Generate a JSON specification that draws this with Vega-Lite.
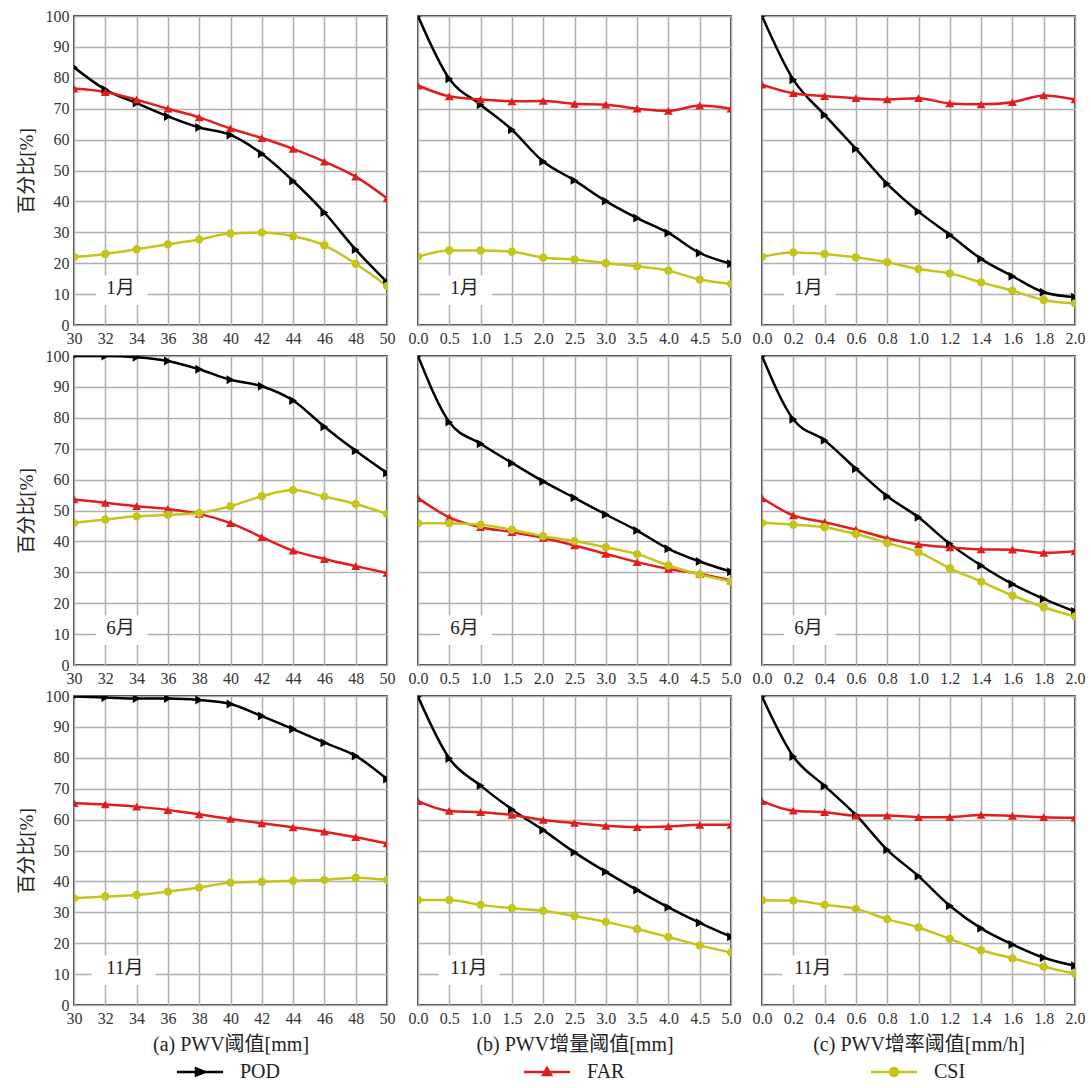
{
  "$schema": "https://vega.github.io/schema/vega-lite/v6.json",
  "background": "white",
  "padding": {"left": 16, "top": 7, "right": 5, "bottom": 5},
  "bounds": "flush",
  "spacing": 31,
  "columns": 3,
  "datasets": {
    "d": [
      {"m":"1月","t":"a","x":30,"POD":83.4,"FAR":76.5,"CSI":22.0},
      {"m":"1月","t":"a","x":32,"POD":76.2,"FAR":75.4,"CSI":23.0},
      {"m":"1月","t":"a","x":34,"POD":71.8,"FAR":72.9,"CSI":24.5},
      {"m":"1月","t":"a","x":36,"POD":67.5,"FAR":70.0,"CSI":26.1},
      {"m":"1月","t":"a","x":38,"POD":63.9,"FAR":67.2,"CSI":27.7},
      {"m":"1月","t":"a","x":40,"POD":61.5,"FAR":63.6,"CSI":29.6},
      {"m":"1月","t":"a","x":42,"POD":55.4,"FAR":60.5,"CSI":29.9},
      {"m":"1月","t":"a","x":44,"POD":46.6,"FAR":57.0,"CSI":28.7},
      {"m":"1月","t":"a","x":46,"POD":36.4,"FAR":52.9,"CSI":25.8},
      {"m":"1月","t":"a","x":48,"POD":24.4,"FAR":48.0,"CSI":19.8},
      {"m":"1月","t":"a","x":50,"POD":13.9,"FAR":41.0,"CSI":12.6},
      {"m":"1月","t":"b","x":0.0,"POD":100,"FAR":77.5,"CSI":22.1},
      {"m":"1月","t":"b","x":0.5,"POD":79.7,"FAR":74.0,"CSI":24.1},
      {"m":"1月","t":"b","x":1.0,"POD":71.3,"FAR":73.0,"CSI":24.1},
      {"m":"1月","t":"b","x":1.5,"POD":63.2,"FAR":72.4,"CSI":23.7},
      {"m":"1月","t":"b","x":2.0,"POD":52.9,"FAR":72.5,"CSI":21.8},
      {"m":"1月","t":"b","x":2.5,"POD":46.8,"FAR":71.6,"CSI":21.2},
      {"m":"1月","t":"b","x":3.0,"POD":40.1,"FAR":71.3,"CSI":20.0},
      {"m":"1月","t":"b","x":3.5,"POD":34.6,"FAR":70.0,"CSI":19.0},
      {"m":"1月","t":"b","x":4.0,"POD":29.8,"FAR":69.3,"CSI":17.6},
      {"m":"1月","t":"b","x":4.5,"POD":23.3,"FAR":71.0,"CSI":14.7},
      {"m":"1月","t":"b","x":5.0,"POD":19.8,"FAR":70.0,"CSI":13.3},
      {"m":"1月","t":"c","x":0.0,"POD":100,"FAR":77.8,"CSI":22.1},
      {"m":"1月","t":"c","x":0.2,"POD":79.4,"FAR":75.0,"CSI":23.5},
      {"m":"1月","t":"c","x":0.4,"POD":68.0,"FAR":74.1,"CSI":23.0},
      {"m":"1月","t":"c","x":0.6,"POD":57.0,"FAR":73.4,"CSI":21.9},
      {"m":"1月","t":"c","x":0.8,"POD":45.7,"FAR":73.0,"CSI":20.3},
      {"m":"1月","t":"c","x":1.0,"POD":36.7,"FAR":73.4,"CSI":18.1},
      {"m":"1月","t":"c","x":1.2,"POD":29.2,"FAR":71.7,"CSI":16.7},
      {"m":"1月","t":"c","x":1.4,"POD":21.4,"FAR":71.4,"CSI":13.8},
      {"m":"1月","t":"c","x":1.6,"POD":15.8,"FAR":72.1,"CSI":11.1},
      {"m":"1月","t":"c","x":1.8,"POD":10.6,"FAR":74.3,"CSI":8.1},
      {"m":"1月","t":"c","x":2.0,"POD":9.0,"FAR":73.0,"CSI":7.0},
      {"m":"6月","t":"a","x":30,"POD":100,"FAR":53.6,"CSI":46.0},
      {"m":"6月","t":"a","x":32,"POD":100,"FAR":52.5,"CSI":47.1},
      {"m":"6月","t":"a","x":34,"POD":99.6,"FAR":51.4,"CSI":48.1},
      {"m":"6月","t":"a","x":36,"POD":98.4,"FAR":50.5,"CSI":48.6},
      {"m":"6月","t":"a","x":38,"POD":95.7,"FAR":48.9,"CSI":49.2},
      {"m":"6月","t":"a","x":40,"POD":92.3,"FAR":45.9,"CSI":51.4},
      {"m":"6月","t":"a","x":42,"POD":90.2,"FAR":41.4,"CSI":54.6},
      {"m":"6月","t":"a","x":44,"POD":85.6,"FAR":37.0,"CSI":56.6},
      {"m":"6月","t":"a","x":46,"POD":77.1,"FAR":34.3,"CSI":54.5},
      {"m":"6月","t":"a","x":48,"POD":69.3,"FAR":32.0,"CSI":52.1},
      {"m":"6月","t":"a","x":50,"POD":62.1,"FAR":29.8,"CSI":48.9},
      {"m":"6月","t":"b","x":0.0,"POD":100,"FAR":54.0,"CSI":45.9},
      {"m":"6月","t":"b","x":0.5,"POD":78.6,"FAR":47.8,"CSI":45.9},
      {"m":"6月","t":"b","x":1.0,"POD":71.6,"FAR":44.6,"CSI":45.4},
      {"m":"6月","t":"b","x":1.5,"POD":65.4,"FAR":43.0,"CSI":43.8},
      {"m":"6月","t":"b","x":2.0,"POD":59.4,"FAR":41.1,"CSI":41.7},
      {"m":"6月","t":"b","x":2.5,"POD":54.1,"FAR":38.7,"CSI":40.1},
      {"m":"6月","t":"b","x":3.0,"POD":48.7,"FAR":36.0,"CSI":38.1},
      {"m":"6月","t":"b","x":3.5,"POD":43.5,"FAR":33.3,"CSI":35.9},
      {"m":"6月","t":"b","x":4.0,"POD":37.6,"FAR":31.1,"CSI":32.2},
      {"m":"6月","t":"b","x":4.5,"POD":33.5,"FAR":29.5,"CSI":29.3},
      {"m":"6月","t":"b","x":5.0,"POD":30.2,"FAR":27.3,"CSI":27.0},
      {"m":"6月","t":"c","x":0.0,"POD":100,"FAR":54.0,"CSI":46.0},
      {"m":"6月","t":"c","x":0.2,"POD":79.5,"FAR":48.4,"CSI":45.4},
      {"m":"6月","t":"c","x":0.4,"POD":72.7,"FAR":46.2,"CSI":44.6},
      {"m":"6月","t":"c","x":0.6,"POD":63.5,"FAR":43.8,"CSI":42.4},
      {"m":"6月","t":"c","x":0.8,"POD":54.6,"FAR":41.0,"CSI":39.5},
      {"m":"6月","t":"c","x":1.0,"POD":47.8,"FAR":39.0,"CSI":36.5},
      {"m":"6月","t":"c","x":1.2,"POD":39.2,"FAR":38.1,"CSI":31.3},
      {"m":"6月","t":"c","x":1.4,"POD":32.2,"FAR":37.4,"CSI":27.0},
      {"m":"6月","t":"c","x":1.6,"POD":26.2,"FAR":37.3,"CSI":22.5},
      {"m":"6月","t":"c","x":1.8,"POD":21.4,"FAR":36.3,"CSI":18.7},
      {"m":"6月","t":"c","x":2.0,"POD":17.3,"FAR":36.8,"CSI":15.7},
      {"m":"11月","t":"a","x":30,"POD":99.8,"FAR":65.3,"CSI":34.5},
      {"m":"11月","t":"a","x":32,"POD":99.5,"FAR":64.9,"CSI":35.1},
      {"m":"11月","t":"a","x":34,"POD":99.2,"FAR":64.2,"CSI":35.6},
      {"m":"11月","t":"a","x":36,"POD":99.2,"FAR":63.1,"CSI":36.7},
      {"m":"11月","t":"a","x":38,"POD":98.7,"FAR":61.7,"CSI":38.0},
      {"m":"11月","t":"a","x":40,"POD":97.4,"FAR":60.2,"CSI":39.6},
      {"m":"11月","t":"a","x":42,"POD":93.5,"FAR":58.8,"CSI":39.9},
      {"m":"11月","t":"a","x":44,"POD":89.3,"FAR":57.5,"CSI":40.2},
      {"m":"11月","t":"a","x":46,"POD":84.9,"FAR":56.1,"CSI":40.5},
      {"m":"11月","t":"a","x":48,"POD":80.6,"FAR":54.3,"CSI":41.2},
      {"m":"11月","t":"a","x":50,"POD":73.1,"FAR":52.3,"CSI":40.5},
      {"m":"11月","t":"b","x":0.0,"POD":99.8,"FAR":66.0,"CSI":34.0},
      {"m":"11月","t":"b","x":0.5,"POD":79.8,"FAR":62.8,"CSI":34.0},
      {"m":"11月","t":"b","x":1.0,"POD":71.0,"FAR":62.4,"CSI":32.4},
      {"m":"11月","t":"b","x":1.5,"POD":63.3,"FAR":61.5,"CSI":31.3},
      {"m":"11月","t":"b","x":2.0,"POD":56.6,"FAR":59.9,"CSI":30.5},
      {"m":"11月","t":"b","x":2.5,"POD":49.4,"FAR":58.9,"CSI":28.8},
      {"m":"11月","t":"b","x":3.0,"POD":43.1,"FAR":58.0,"CSI":26.9},
      {"m":"11月","t":"b","x":3.5,"POD":37.2,"FAR":57.6,"CSI":24.6},
      {"m":"11月","t":"b","x":4.0,"POD":31.6,"FAR":57.8,"CSI":22.0},
      {"m":"11月","t":"b","x":4.5,"POD":26.6,"FAR":58.3,"CSI":19.3},
      {"m":"11月","t":"b","x":5.0,"POD":22.1,"FAR":58.3,"CSI":17.0},
      {"m":"11月","t":"c","x":0.0,"POD":99.8,"FAR":66.0,"CSI":33.9},
      {"m":"11月","t":"c","x":0.2,"POD":80.4,"FAR":62.9,"CSI":33.8},
      {"m":"11月","t":"c","x":0.4,"POD":70.9,"FAR":62.4,"CSI":32.4},
      {"m":"11月","t":"c","x":0.6,"POD":61.5,"FAR":61.3,"CSI":31.1},
      {"m":"11月","t":"c","x":0.8,"POD":50.2,"FAR":61.3,"CSI":27.8},
      {"m":"11月","t":"c","x":1.0,"POD":41.7,"FAR":60.8,"CSI":25.1},
      {"m":"11月","t":"c","x":1.2,"POD":32.1,"FAR":60.8,"CSI":21.4},
      {"m":"11月","t":"c","x":1.4,"POD":24.8,"FAR":61.5,"CSI":17.7},
      {"m":"11月","t":"c","x":1.6,"POD":19.6,"FAR":61.2,"CSI":15.1},
      {"m":"11月","t":"c","x":1.8,"POD":15.3,"FAR":60.8,"CSI":12.4},
      {"m":"11月","t":"c","x":2.0,"POD":12.7,"FAR":60.6,"CSI":10.2}
    ]
  },
  "data": {"name": "d"},
  "concat": [
    {"width": 313, "height": 309, "layer": [
      {"data": {"values": [{}]}, "mark": {"type": "rect", "fill": "white"}, "encoding": {"x": {"datum": 31.4, "type": "quantitative"}, "x2": {"datum": 34.7}, "y": {"datum": 6.5, "type": "quantitative"}, "y2": {"datum": 16}}},
      {"data": {"values": [{}]}, "mark": {"type": "text", "align": "left", "baseline": "middle", "dx": 1, "fontSize": 19, "font": "Liberation Serif, Noto Sans CJK SC", "text": "1月", "color": "#222"}, "encoding": {"x": {"datum": 32, "type": "quantitative"}, "y": {"datum": 12, "type": "quantitative"}}},
      {"transform": [{"filter": "datum.m=='1月' && datum.t=='a'"}, {"fold": ["POD","FAR","CSI"], "as": ["k","v"]}],
       "encoding": {
         "x": {"field": "x", "type": "quantitative", "scale": {"domain": [30,50], "nice": false, "zero": false}, "axis": {"tickCount": 10, "format": "d", "title": null}},
         "y": {"field": "v", "type": "quantitative", "scale": {"domain": [0,100]}, "axis": {"tickCount": 10, "title": "百分比[%]"}},
         "color": {"field": "k", "type": "nominal", "scale": {"domain": ["POD","FAR","CSI"], "range": ["#000000","#e01e1e","#c4c41a"]},
           "legend": {"title": null, "orient": "none", "legendX": 116, "legendY": 1046, "direction": "horizontal",
             "encode": {"symbols": {"update": {
               "shape": {"signal": "datum.value === 'POD' ? 'M-4.6,0H4.6M-0.8,-0.7L1,0L-0.8,0.7Z' : datum.value === 'FAR' ? 'M-4.6,0H4.6M-0.8,0.6L0,-0.8L0.8,0.6Z' : 'M-4.6,0H4.6M-0.8,0A0.8,0.8 0 1,0 0.8,0A0.8,0.8 0 1,0 -0.8,0Z'"},
               "stroke": {"signal": "datum.value === 'POD' ? '#000000' : datum.value === 'FAR' ? '#e01e1e' : '#c4c41a'"},
               "strokeWidth": {"value": 2.5},
               "opacity": {"value": 1}}}}}}
       },
       "layer": [
         {"mark": {"type": "line", "interpolate": "monotone", "strokeWidth": 2.5, "clip": true}},
         {"transform": [{"filter": "datum.k=='POD'"}], "mark": {"type": "point", "shape": "triangle-right", "filled": true, "size": 80, "opacity": 1, "clip": true}},
         {"transform": [{"filter": "datum.k=='FAR'"}], "mark": {"type": "point", "shape": "triangle-up", "filled": true, "size": 80, "opacity": 1, "clip": true}},
         {"transform": [{"filter": "datum.k=='CSI'"}], "mark": {"type": "point", "shape": "circle", "filled": true, "size": 70, "opacity": 1, "clip": true}}
       ]}
    ]},
    {"width": 313, "height": 309, "layer": [
      {"data": {"values": [{}]}, "mark": {"type": "rect", "fill": "white"}, "encoding": {"x": {"datum": 0.35, "type": "quantitative"}, "x2": {"datum": 1.18}, "y": {"datum": 6.5, "type": "quantitative"}, "y2": {"datum": 16}}},
      {"data": {"values": [{}]}, "mark": {"type": "text", "align": "left", "baseline": "middle", "dx": 1, "fontSize": 19, "font": "Liberation Serif, Noto Sans CJK SC", "text": "1月", "color": "#222"}, "encoding": {"x": {"datum": 0.5, "type": "quantitative"}, "y": {"datum": 12, "type": "quantitative"}}},
      {"transform": [{"filter": "datum.m=='1月' && datum.t=='b'"}, {"fold": ["POD","FAR","CSI"], "as": ["k","v"]}],
       "encoding": {
         "x": {"field": "x", "type": "quantitative", "scale": {"domain": [0,5], "nice": false}, "axis": {"tickCount": 10, "format": ".1f", "title": null}},
         "y": {"field": "v", "type": "quantitative", "scale": {"domain": [0,100]}, "axis": {"tickCount": 10, "labels": false, "title": null}},
         "color": {"field": "k", "type": "nominal", "scale": {"domain": ["POD","FAR","CSI"], "range": ["#000000","#e01e1e","#c4c41a"]}}
       },
       "layer": [
         {"mark": {"type": "line", "interpolate": "monotone", "strokeWidth": 2.5, "clip": true}},
         {"transform": [{"filter": "datum.k=='POD'"}], "mark": {"type": "point", "shape": "triangle-right", "filled": true, "size": 80, "opacity": 1, "clip": true}},
         {"transform": [{"filter": "datum.k=='FAR'"}], "mark": {"type": "point", "shape": "triangle-up", "filled": true, "size": 80, "opacity": 1, "clip": true}},
         {"transform": [{"filter": "datum.k=='CSI'"}], "mark": {"type": "point", "shape": "circle", "filled": true, "size": 70, "opacity": 1, "clip": true}}
       ]}
    ]},
    {"width": 313, "height": 309, "layer": [
      {"data": {"values": [{}]}, "mark": {"type": "rect", "fill": "white"}, "encoding": {"x": {"datum": 0.14, "type": "quantitative"}, "x2": {"datum": 0.47}, "y": {"datum": 6.5, "type": "quantitative"}, "y2": {"datum": 16}}},
      {"data": {"values": [{}]}, "mark": {"type": "text", "align": "left", "baseline": "middle", "dx": 1, "fontSize": 19, "font": "Liberation Serif, Noto Sans CJK SC", "text": "1月", "color": "#222"}, "encoding": {"x": {"datum": 0.2, "type": "quantitative"}, "y": {"datum": 12, "type": "quantitative"}}},
      {"transform": [{"filter": "datum.m=='1月' && datum.t=='c'"}, {"fold": ["POD","FAR","CSI"], "as": ["k","v"]}],
       "encoding": {
         "x": {"field": "x", "type": "quantitative", "scale": {"domain": [0,2], "nice": false}, "axis": {"tickCount": 10, "format": ".1f", "title": null}},
         "y": {"field": "v", "type": "quantitative", "scale": {"domain": [0,100]}, "axis": {"tickCount": 10, "labels": false, "title": null}},
         "color": {"field": "k", "type": "nominal", "scale": {"domain": ["POD","FAR","CSI"], "range": ["#000000","#e01e1e","#c4c41a"]}}
       },
       "layer": [
         {"mark": {"type": "line", "interpolate": "monotone", "strokeWidth": 2.5, "clip": true}},
         {"transform": [{"filter": "datum.k=='POD'"}], "mark": {"type": "point", "shape": "triangle-right", "filled": true, "size": 80, "opacity": 1, "clip": true}},
         {"transform": [{"filter": "datum.k=='FAR'"}], "mark": {"type": "point", "shape": "triangle-up", "filled": true, "size": 80, "opacity": 1, "clip": true}},
         {"transform": [{"filter": "datum.k=='CSI'"}], "mark": {"type": "point", "shape": "circle", "filled": true, "size": 70, "opacity": 1, "clip": true}}
       ]}
    ]},
    {"width": 313, "height": 309, "layer": [
      {"data": {"values": [{}]}, "mark": {"type": "rect", "fill": "white"}, "encoding": {"x": {"datum": 31.4, "type": "quantitative"}, "x2": {"datum": 34.7}, "y": {"datum": 6.5, "type": "quantitative"}, "y2": {"datum": 16}}},
      {"data": {"values": [{}]}, "mark": {"type": "text", "align": "left", "baseline": "middle", "dx": 1, "fontSize": 19, "font": "Liberation Serif, Noto Sans CJK SC", "text": "6月", "color": "#222"}, "encoding": {"x": {"datum": 32, "type": "quantitative"}, "y": {"datum": 12, "type": "quantitative"}}},
      {"transform": [{"filter": "datum.m=='6月' && datum.t=='a'"}, {"fold": ["POD","FAR","CSI"], "as": ["k","v"]}],
       "encoding": {
         "x": {"field": "x", "type": "quantitative", "scale": {"domain": [30,50], "nice": false, "zero": false}, "axis": {"tickCount": 10, "format": "d", "title": null}},
         "y": {"field": "v", "type": "quantitative", "scale": {"domain": [0,100]}, "axis": {"tickCount": 10, "title": "百分比[%]"}},
         "color": {"field": "k", "type": "nominal", "scale": {"domain": ["POD","FAR","CSI"], "range": ["#000000","#e01e1e","#c4c41a"]}}
       },
       "layer": [
         {"mark": {"type": "line", "interpolate": "monotone", "strokeWidth": 2.5, "clip": true}},
         {"transform": [{"filter": "datum.k=='POD'"}], "mark": {"type": "point", "shape": "triangle-right", "filled": true, "size": 80, "opacity": 1, "clip": true}},
         {"transform": [{"filter": "datum.k=='FAR'"}], "mark": {"type": "point", "shape": "triangle-up", "filled": true, "size": 80, "opacity": 1, "clip": true}},
         {"transform": [{"filter": "datum.k=='CSI'"}], "mark": {"type": "point", "shape": "circle", "filled": true, "size": 70, "opacity": 1, "clip": true}}
       ]}
    ]},
    {"width": 313, "height": 309, "layer": [
      {"data": {"values": [{}]}, "mark": {"type": "rect", "fill": "white"}, "encoding": {"x": {"datum": 0.35, "type": "quantitative"}, "x2": {"datum": 1.18}, "y": {"datum": 6.5, "type": "quantitative"}, "y2": {"datum": 16}}},
      {"data": {"values": [{}]}, "mark": {"type": "text", "align": "left", "baseline": "middle", "dx": 1, "fontSize": 19, "font": "Liberation Serif, Noto Sans CJK SC", "text": "6月", "color": "#222"}, "encoding": {"x": {"datum": 0.5, "type": "quantitative"}, "y": {"datum": 12, "type": "quantitative"}}},
      {"transform": [{"filter": "datum.m=='6月' && datum.t=='b'"}, {"fold": ["POD","FAR","CSI"], "as": ["k","v"]}],
       "encoding": {
         "x": {"field": "x", "type": "quantitative", "scale": {"domain": [0,5], "nice": false}, "axis": {"tickCount": 10, "format": ".1f", "title": null}},
         "y": {"field": "v", "type": "quantitative", "scale": {"domain": [0,100]}, "axis": {"tickCount": 10, "labels": false, "title": null}},
         "color": {"field": "k", "type": "nominal", "scale": {"domain": ["POD","FAR","CSI"], "range": ["#000000","#e01e1e","#c4c41a"]}}
       },
       "layer": [
         {"mark": {"type": "line", "interpolate": "monotone", "strokeWidth": 2.5, "clip": true}},
         {"transform": [{"filter": "datum.k=='POD'"}], "mark": {"type": "point", "shape": "triangle-right", "filled": true, "size": 80, "opacity": 1, "clip": true}},
         {"transform": [{"filter": "datum.k=='FAR'"}], "mark": {"type": "point", "shape": "triangle-up", "filled": true, "size": 80, "opacity": 1, "clip": true}},
         {"transform": [{"filter": "datum.k=='CSI'"}], "mark": {"type": "point", "shape": "circle", "filled": true, "size": 70, "opacity": 1, "clip": true}}
       ]}
    ]},
    {"width": 313, "height": 309, "layer": [
      {"data": {"values": [{}]}, "mark": {"type": "rect", "fill": "white"}, "encoding": {"x": {"datum": 0.14, "type": "quantitative"}, "x2": {"datum": 0.47}, "y": {"datum": 6.5, "type": "quantitative"}, "y2": {"datum": 16}}},
      {"data": {"values": [{}]}, "mark": {"type": "text", "align": "left", "baseline": "middle", "dx": 1, "fontSize": 19, "font": "Liberation Serif, Noto Sans CJK SC", "text": "6月", "color": "#222"}, "encoding": {"x": {"datum": 0.2, "type": "quantitative"}, "y": {"datum": 12, "type": "quantitative"}}},
      {"transform": [{"filter": "datum.m=='6月' && datum.t=='c'"}, {"fold": ["POD","FAR","CSI"], "as": ["k","v"]}],
       "encoding": {
         "x": {"field": "x", "type": "quantitative", "scale": {"domain": [0,2], "nice": false}, "axis": {"tickCount": 10, "format": ".1f", "title": null}},
         "y": {"field": "v", "type": "quantitative", "scale": {"domain": [0,100]}, "axis": {"tickCount": 10, "labels": false, "title": null}},
         "color": {"field": "k", "type": "nominal", "scale": {"domain": ["POD","FAR","CSI"], "range": ["#000000","#e01e1e","#c4c41a"]}}
       },
       "layer": [
         {"mark": {"type": "line", "interpolate": "monotone", "strokeWidth": 2.5, "clip": true}},
         {"transform": [{"filter": "datum.k=='POD'"}], "mark": {"type": "point", "shape": "triangle-right", "filled": true, "size": 80, "opacity": 1, "clip": true}},
         {"transform": [{"filter": "datum.k=='FAR'"}], "mark": {"type": "point", "shape": "triangle-up", "filled": true, "size": 80, "opacity": 1, "clip": true}},
         {"transform": [{"filter": "datum.k=='CSI'"}], "mark": {"type": "point", "shape": "circle", "filled": true, "size": 70, "opacity": 1, "clip": true}}
       ]}
    ]},
    {"width": 313, "height": 309, "layer": [
      {"data": {"values": [{}]}, "mark": {"type": "rect", "fill": "white"}, "encoding": {"x": {"datum": 31.1, "type": "quantitative"}, "x2": {"datum": 35.2}, "y": {"datum": 6.5, "type": "quantitative"}, "y2": {"datum": 16}}},
      {"data": {"values": [{}]}, "mark": {"type": "text", "align": "left", "baseline": "middle", "dx": 1, "fontSize": 19, "font": "Liberation Serif, Noto Sans CJK SC", "text": "11月", "color": "#222"}, "encoding": {"x": {"datum": 32, "type": "quantitative"}, "y": {"datum": 12, "type": "quantitative"}}},
      {"transform": [{"filter": "datum.m=='11月' && datum.t=='a'"}, {"fold": ["POD","FAR","CSI"], "as": ["k","v"]}],
       "encoding": {
         "x": {"field": "x", "type": "quantitative", "scale": {"domain": [30,50], "nice": false, "zero": false}, "axis": {"tickCount": 10, "format": "d", "title": "(a) PWV阈值[mm]"}},
         "y": {"field": "v", "type": "quantitative", "scale": {"domain": [0,100]}, "axis": {"tickCount": 10, "title": "百分比[%]"}},
         "color": {"field": "k", "type": "nominal", "scale": {"domain": ["POD","FAR","CSI"], "range": ["#000000","#e01e1e","#c4c41a"]}}
       },
       "layer": [
         {"mark": {"type": "line", "interpolate": "monotone", "strokeWidth": 2.5, "clip": true}},
         {"transform": [{"filter": "datum.k=='POD'"}], "mark": {"type": "point", "shape": "triangle-right", "filled": true, "size": 80, "opacity": 1, "clip": true}},
         {"transform": [{"filter": "datum.k=='FAR'"}], "mark": {"type": "point", "shape": "triangle-up", "filled": true, "size": 80, "opacity": 1, "clip": true}},
         {"transform": [{"filter": "datum.k=='CSI'"}], "mark": {"type": "point", "shape": "circle", "filled": true, "size": 70, "opacity": 1, "clip": true}}
       ]}
    ]},
    {"width": 313, "height": 309, "layer": [
      {"data": {"values": [{}]}, "mark": {"type": "rect", "fill": "white"}, "encoding": {"x": {"datum": 0.33, "type": "quantitative"}, "x2": {"datum": 1.3}, "y": {"datum": 6.5, "type": "quantitative"}, "y2": {"datum": 16}}},
      {"data": {"values": [{}]}, "mark": {"type": "text", "align": "left", "baseline": "middle", "dx": 1, "fontSize": 19, "font": "Liberation Serif, Noto Sans CJK SC", "text": "11月", "color": "#222"}, "encoding": {"x": {"datum": 0.5, "type": "quantitative"}, "y": {"datum": 12, "type": "quantitative"}}},
      {"transform": [{"filter": "datum.m=='11月' && datum.t=='b'"}, {"fold": ["POD","FAR","CSI"], "as": ["k","v"]}],
       "encoding": {
         "x": {"field": "x", "type": "quantitative", "scale": {"domain": [0,5], "nice": false}, "axis": {"tickCount": 10, "format": ".1f", "title": "(b) PWV增量阈值[mm]"}},
         "y": {"field": "v", "type": "quantitative", "scale": {"domain": [0,100]}, "axis": {"tickCount": 10, "labels": false, "title": null}},
         "color": {"field": "k", "type": "nominal", "scale": {"domain": ["POD","FAR","CSI"], "range": ["#000000","#e01e1e","#c4c41a"]}}
       },
       "layer": [
         {"mark": {"type": "line", "interpolate": "monotone", "strokeWidth": 2.5, "clip": true}},
         {"transform": [{"filter": "datum.k=='POD'"}], "mark": {"type": "point", "shape": "triangle-right", "filled": true, "size": 80, "opacity": 1, "clip": true}},
         {"transform": [{"filter": "datum.k=='FAR'"}], "mark": {"type": "point", "shape": "triangle-up", "filled": true, "size": 80, "opacity": 1, "clip": true}},
         {"transform": [{"filter": "datum.k=='CSI'"}], "mark": {"type": "point", "shape": "circle", "filled": true, "size": 70, "opacity": 1, "clip": true}}
       ]}
    ]},
    {"width": 313, "height": 309, "layer": [
      {"data": {"values": [{}]}, "mark": {"type": "rect", "fill": "white"}, "encoding": {"x": {"datum": 0.13, "type": "quantitative"}, "x2": {"datum": 0.52}, "y": {"datum": 6.5, "type": "quantitative"}, "y2": {"datum": 16}}},
      {"data": {"values": [{}]}, "mark": {"type": "text", "align": "left", "baseline": "middle", "dx": 1, "fontSize": 19, "font": "Liberation Serif, Noto Sans CJK SC", "text": "11月", "color": "#222"}, "encoding": {"x": {"datum": 0.2, "type": "quantitative"}, "y": {"datum": 12, "type": "quantitative"}}},
      {"transform": [{"filter": "datum.m=='11月' && datum.t=='c'"}, {"fold": ["POD","FAR","CSI"], "as": ["k","v"]}],
       "encoding": {
         "x": {"field": "x", "type": "quantitative", "scale": {"domain": [0,2], "nice": false}, "axis": {"tickCount": 10, "format": ".1f", "title": "(c) PWV增率阈值[mm/h]"}},
         "y": {"field": "v", "type": "quantitative", "scale": {"domain": [0,100]}, "axis": {"tickCount": 10, "labels": false, "title": null}},
         "color": {"field": "k", "type": "nominal", "scale": {"domain": ["POD","FAR","CSI"], "range": ["#000000","#e01e1e","#c4c41a"]}}
       },
       "layer": [
         {"mark": {"type": "line", "interpolate": "monotone", "strokeWidth": 2.5, "clip": true}},
         {"transform": [{"filter": "datum.k=='POD'"}], "mark": {"type": "point", "shape": "triangle-right", "filled": true, "size": 80, "opacity": 1, "clip": true}},
         {"transform": [{"filter": "datum.k=='FAR'"}], "mark": {"type": "point", "shape": "triangle-up", "filled": true, "size": 80, "opacity": 1, "clip": true}},
         {"transform": [{"filter": "datum.k=='CSI'"}], "mark": {"type": "point", "shape": "circle", "filled": true, "size": 70, "opacity": 1, "clip": true}}
       ]}
    ]}
  ],
  "resolve": {"scale": {"x": "independent", "y": "independent"}},
  "config": {
    "font": "Liberation Serif, Noto Sans CJK SC",
    "view": {"stroke": "#000000", "strokeWidth": 1.5},
    "axis": {"grid": true, "gridColor": "#b0b0b0", "gridWidth": 1.5, "domain": false, "ticks": false,
      "labelFont": "Liberation Serif", "labelFontSize": 16, "labelColor": "#333333", "labelPadding": 5,
      "labelOverlap": false, "labelBound": false, "labelFlush": false,
      "titleFont": "Liberation Serif, Noto Sans CJK SC", "titleFontWeight": "normal", "titleColor": "#222222"},
    "axisX": {"titleFontSize": 20, "titlePadding": 8},
    "axisY": {"titleFontSize": 19, "titlePadding": 9},
    "legend": {"gridAlign": "all", "columnPadding": 238, "symbolSize": 100, "symbolStrokeWidth": 2.5,
      "labelFont": "Liberation Serif", "labelFontSize": 20, "labelOffset": 30, "labelColor": "#222222", "padding": 0}
  }
}
